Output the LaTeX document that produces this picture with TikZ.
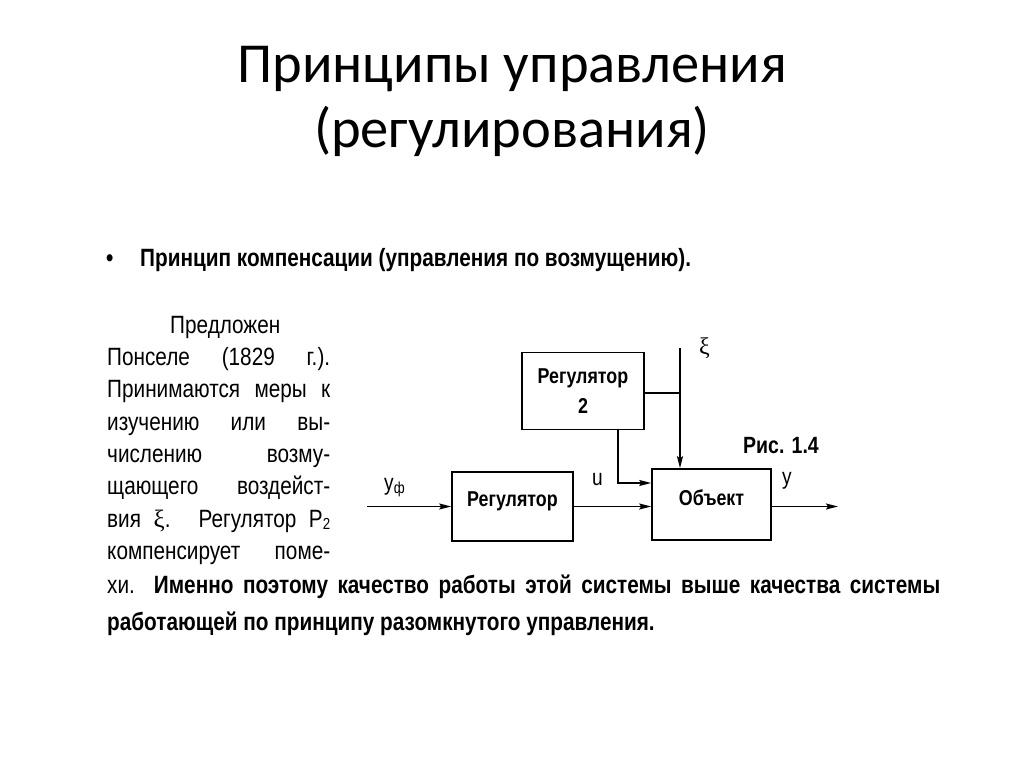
\documentclass[tikz,border=0pt]{standalone}
\usepackage{fontspec}
\setmainfont{Liberation Sans}
\newfontfamily\titlefont{Carlito}
\newfontfamily\narrowfont[FakeStretch=0.83]{Liberation Sans}
\newfontfamily\greekfont{Liberation Serif}
\usetikzlibrary{arrows.meta}
\tikzset{
  blockbox/.style={draw, line width=1.6pt, inner sep=0pt, align=center,
    font=\narrowfont\bfseries\fontsize{21.5}{25}\selectfont},
  conn/.style={line width=1.6pt},
  arr/.style={conn, -{Stealth[length=12pt,width=6pt,inset=2pt]}},
  titletext/.style={font=\titlefont\fontsize{56.5}{64}\selectfont, inner sep=0pt},
  bodytext/.style={font=\narrowfont\fontsize{25}{30}\selectfont, inner sep=0pt, anchor=base west},
  boldtext/.style={font=\narrowfont\bfseries\fontsize{25}{30}\selectfont, inner sep=0pt, anchor=base west},
  lbl/.style={font=\narrowfont\fontsize{23}{27}\selectfont, inner sep=0pt, anchor=base west}
}
\begin{document}
\begin{tikzpicture}[x=1pt,y=-1pt]
\useasboundingbox[fill=white] (0,0) rectangle (1024,767);

% title
\node[titletext, anchor=base] (t1) at (512,83) {Принципы управления};
\node[titletext, anchor=base] (t2) at (512,148) {(регулирования)};

% bullet line
\node[boldtext] (bul) at (106,266) {•};
\node[boldtext] (head) at (140,266) {Принцип компенсации (управления по возмущению).};

% paragraph
\node[bodytext] (p1) at (170,333) {Предложен};
\node[bodytext] (p2) at (107,365) {\makebox[223pt][s]{Понселе (1829 г.).}};
\node[bodytext] (p3) at (107,397) {\makebox[223pt][s]{Принимаются меры к}};
\node[bodytext] (p4) at (107,430) {\makebox[223pt][s]{изучению или вы-}};
\node[bodytext] (p5) at (107,462) {\makebox[223pt][s]{числению возму-}};
\node[bodytext] (p6) at (107,494) {\makebox[223pt][s]{щающего воздейст-}};
\node[bodytext] (p7) at (107,527) {\makebox[223pt][s]{вия {\greekfont ξ}. Регулятор Р\raisebox{-0.2ex}{\fontsize{16}{18}\selectfont 2}}};
\node[bodytext] (p8) at (107,559) {\makebox[223pt][s]{компенсирует поме-}};
\node[bodytext] (p9) at (107,593) {\makebox[833pt][s]{хи.\ \ \textbf{Именно поэтому качество работы этой системы выше качества системы}}};
\node[boldtext] (p10) at (107,630) {работающей по принципу разомкнутого управления.};

% blocks
\node[blockbox, minimum width=122pt, minimum height=77pt] (reg2) at (583,391) {Регулятор\\[5pt]2};
\node[blockbox, minimum width=121pt, minimum height=69pt] (reg) at (512.5,506.5) {\raisebox{14pt}{Регулятор}};
\node[blockbox, minimum width=119pt, minimum height=71pt] (obj) at (711.5,504.5) {\raisebox{14pt}{Объект}};

% coordinates
\coordinate (in) at (367,506.5);
\coordinate (out) at (838,506.5);
\coordinate (xitop) at (680,348);
\coordinate (j) at (680,393);
\coordinate (k) at (618,483);

% connectors
\draw[arr] (in) -- (reg.west);
\draw[arr] (reg.east) -- (reg.east -| obj.west);
\draw[arr] (obj.east |- out) -- (out);
\draw[arr] (xitop) -- (xitop |- obj.north);
\draw[conn] (reg2.east |- j) -- (j);
\draw[arr] (reg2.south -| k) -- (k) -- (k -| obj.west);

% labels
\node[lbl] (lyf) at (384,490) {у\raisebox{-0.3ex}{\fontsize{16}{18}\selectfont ф}};
\node[lbl] (lu) at (592,485) {u};
\node[lbl] (ly) at (782,484) {у};
\node[inner sep=0pt, anchor=base west, font=\greekfont\fontsize{24}{28}\selectfont] (lxi) at (699,354) {ξ};
\node[inner sep=0pt, anchor=base west, font=\narrowfont\bfseries\fontsize{23.5}{28}\selectfont] (fig) at (743,453) {Рис. 1.4};
\end{tikzpicture}
\end{document}
